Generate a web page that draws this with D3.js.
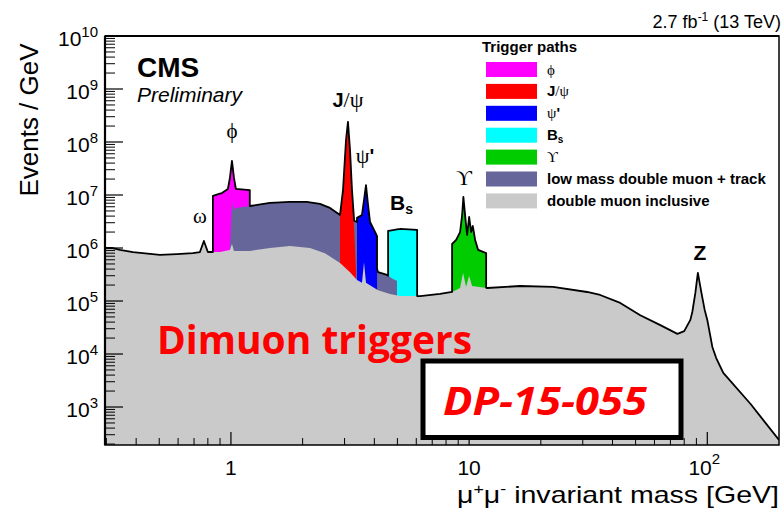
<!DOCTYPE html>
<html>
<head>
<meta charset="utf-8">
<script src="https://cdn.jsdelivr.net/npm/d3@7"></script>
<style>
  body { margin: 0; background: #fff; }
  svg { display: block; font-family: 'Liberation Sans', Arial, sans-serif; }
</style>
</head>
<body>
<div id="chart"></div>
<script>
// each series: [mass in GeV, events / GeV]
const inclusive = [
    [0.296, 1.0e6], [0.319, 1.0e6], [0.342, 9.2e5], [0.388, 8.4e5], [0.503, 7.4e5],
    [0.593, 7.7e5], [0.692, 8.0e5], [0.741, 8.4e5], [0.770, 1.36e6], [0.800, 8.4e5],
    [0.899, 8.4e5], [0.990, 9.2e5], [1.010, 1.19e6], [1.030, 8.8e5], [1.202, 8.8e5],
    [1.459, 1.0e6], [1.770, 1.09e6], [2.148, 1.0e6], [2.48, 8.0e5], [2.871, 5.2e5],
    [3.162, 3.5e5], [3.383, 2.5e5], [3.55, 2.2e5], [3.62, 5.4e5], [3.69, 2.2e5],
    [4.146, 1.6e5], [4.656, 1.36e5], [5.129, 1.24e5], [6.223, 1.24e5], [7.551, 1.36e5],
    [8.484, 1.48e5], [9.163, 1.76e5], [9.43, 3.4e5], [9.71, 1.84e5], [10.0, 3.0e5],
    [10.29, 1.92e5], [11.9, 1.76e5], [16.37, 1.92e5], [22.5, 1.84e5], [31.3, 1.48e5],
    [35.5, 1.30e5], [43.1, 9.2e4], [52.3, 5.4e4], [63.5, 3.5e4], [74.9, 2.4e4],
    [80.0, 2.7e4], [84.9, 4.4e4], [86.5, 6.2e4], [89.1, 1.42e5], [90.5, 2.5e5],
    [91.3, 3.4e5], [92.4, 2.5e5], [94.5, 1.42e5], [97.5, 6.8e4], [100, 4.4e4],
    [105, 1.36e4], [109, 8.4e3], [116.7, 4.4e3], [152, 1.14e3], [200, 238]
];
const lowMassTrack = [
    [0.990, 9.2e5], [1.010, 7.4e6], [1.030, 5.2e6], [1.049, 5.7e6], [1.202, 6.2e6],
    [1.459, 7.1e6], [1.770, 7.4e6], [2.085, 7.4e6], [2.366, 6.8e6], [2.606, 5.7e6],
    [2.871, 4.2e6], [3.10, 3.7e6], [3.383, 3.1e6], [3.69, 1.76e6], [4.03, 5.4e5],
    [4.146, 3.5e5], [4.524, 3.1e5], [4.79, 2.6e5], [4.98, 2.4e5]
];
const phiPath = [
    [0.840, 9.6e6], [0.917, 1.09e7], [0.971, 1.3e7], [0.990, 2.1e7], [1.010, 4.4e7],
    [1.030, 2.1e7], [1.049, 1.3e7], [1.20, 1.24e7]
];
const jpsiPath = [
    [2.871, 4.0e6], [2.955, 1.24e7], [3.042, 1.09e8], [3.10, 2.4e8], [3.162, 7.1e7],
    [3.223, 1.24e7], [3.29, 2.2e6], [3.35, 3.85e5]
];
const psiPrimePath = [
    [3.383, 3.7e6], [3.55, 4.2e6], [3.62, 8.0e6], [3.69, 1.54e7], [3.764, 6.5e6],
    [3.837, 3.1e6], [3.951, 2.4e6], [4.066, 1.84e6], [4.106, 1.68e6]
];
const bsPath = [
    [4.57, 2.1e6], [5.13, 2.3e6], [6.05, 2.2e6]
];
const upsilonPath = [
    [8.484, 1.19e6], [8.82, 1.42e6], [9.163, 2.0e6], [9.35, 4.2e6], [9.46, 9.2e6],
    [9.71, 2.7e6], [9.81, 1.76e6], [10.0, 3.85e6], [10.2, 2.0e6], [10.36, 2.6e6],
    [10.6, 1.42e6], [10.91, 9.2e5], [11.79, 8.0e5]
];

const xTicks = [1, 10, 100];
const yTickExponents = [3, 4, 5, 6, 7, 8, 9, 10];

const colors = {
    phi: '#ff00ff', jpsi: '#ff0000', psip: '#0000ff', bs: '#00ffff',
    ups: '#00cc00', low: '#66669a', incl: '#cacaca'
};

// drawing order: later ones cover earlier ones
const layers = [
    {data: phiPath, color: colors.phi},
    {data: bsPath, color: colors.bs},
    {data: lowMassTrack, color: colors.low},
    {data: jpsiPath, color: colors.jpsi},
    {data: psiPrimePath, color: colors.psip},
    {data: upsilonPath, color: colors.ups},
    {data: inclusive, color: colors.incl}
];

const W = 783, H = 512;
const plot = {left: 105, right: 779, top: 36, bottom: 445};

const x = d3.scaleLog().domain([0.296, 200]).range([plot.left, plot.right]);
const y = d3.scaleLog().domain([192, 1e10]).range([plot.bottom, plot.top]);

const svg = d3.select('#chart').append('svg')
    .attr('width', W)
    .attr('height', H);

svg.append('clipPath').attr('id', 'plotclip')
    .append('rect')
    .attr('x', plot.left).attr('y', plot.top)
    .attr('width', plot.right - plot.left)
    .attr('height', plot.bottom - plot.top);

const g = svg.append('g').attr('clip-path', 'url(#plotclip)');

const area = d3.area()
    .x(d => x(d[0]))
    .y0(plot.bottom)
    .y1(d => y(d[1]));

layers.forEach(l => {
    g.append('path')
        .datum(l.data)
        .attr('fill', l.color)
        .attr('stroke', 'none')
        .attr('d', area);
});

// black outline = upper envelope of all trigger paths
function logAt(s, m) {
    if (m < s[0][0] || m > s[s.length - 1][0]) return null;
    for (let i = 0; i < s.length - 1; i++) {
        const a = s[i], b = s[i + 1];
        if (m >= a[0] && m <= b[0]) {
            const t = (Math.log(m) - Math.log(a[0])) / (Math.log(b[0]) - Math.log(a[0]));
            return Math.log(a[1]) + t * (Math.log(b[1]) - Math.log(a[1]));
        }
    }
    return Math.log(s[s.length - 1][1]);
}

let masses = [];
layers.forEach(l => {
    l.data.forEach(d => masses.push(d[0]));
    masses.push(l.data[0][0] * (1 - 1e-5));
    masses.push(l.data[l.data.length - 1][0] * (1 + 1e-5));
});
masses = Array.from(new Set(masses)).sort((a, b) => a - b)
    .filter(m => m >= inclusive[0][0] && m <= inclusive[inclusive.length - 1][0]);

const envelope = masses.map(m => {
    let best = -Infinity;
    layers.forEach(l => {
        const v = logAt(l.data, m);
        if (v !== null && v > best) best = v;
    });
    return [m, Math.exp(best)];
});

g.append('path')
    .datum(envelope)
    .attr('fill', 'none')
    .attr('stroke', '#000')
    .attr('stroke-width', 1.8)
    .attr('stroke-linejoin', 'round')
    .attr('d', d3.line().x(d => x(d[0])).y(d => y(d[1])));

// axes ticks
const axis = svg.append('g').attr('stroke', '#000');

yTickExponents.forEach(e => {
    axis.append('line')
        .attr('x1', plot.left).attr('x2', plot.left + 18)
        .attr('y1', y(Math.pow(10, e))).attr('y2', y(Math.pow(10, e)))
        .attr('stroke-width', 1.2);
});
for (let e = 2; e < 10; e++) {
    for (let k = 2; k <= 9; k++) {
        const v = k * Math.pow(10, e);
        if (v < y.domain()[0] || v > y.domain()[1]) continue;
        axis.append('line')
            .attr('x1', plot.left).attr('x2', plot.left + 10)
            .attr('y1', y(v)).attr('y2', y(v))
            .attr('stroke-width', 1);
    }
}

xTicks.forEach(t => {
    axis.append('line')
        .attr('x1', x(t)).attr('x2', x(t))
        .attr('y1', plot.bottom).attr('y2', plot.bottom - 13)
        .attr('stroke-width', 1.2);
});
[-1, 0, 1, 2].forEach(e => {
    for (let k = 2; k <= 9; k++) {
        const v = k * Math.pow(10, e);
        if (v <= x.domain()[0] || v >= x.domain()[1]) continue;
        axis.append('line')
            .attr('x1', x(v)).attr('x2', x(v))
            .attr('y1', plot.bottom).attr('y2', plot.bottom - 7)
            .attr('stroke-width', 1);
    }
});

// frame
svg.append('rect')
    .attr('x', plot.left).attr('y', plot.top)
    .attr('width', plot.right - plot.left)
    .attr('height', plot.bottom - plot.top)
    .attr('fill', 'none')
    .attr('stroke', '#000')
    .attr('stroke-width', 1.5);
svg.append('line')
    .attr('x1', plot.left).attr('x2', plot.left)
    .attr('y1', plot.top).attr('y2', plot.bottom)
    .attr('stroke', '#000').attr('stroke-width', 2.2);
svg.append('line')
    .attr('x1', plot.left).attr('x2', plot.right)
    .attr('y1', plot.top).attr('y2', plot.top)
    .attr('stroke', '#000').attr('stroke-width', 2.2);

// y tick labels
yTickExponents.forEach(e => {
    const t = svg.append('text')
        .attr('x', 98)
        .attr('y', y(Math.pow(10, e)) + 10)
        .attr('text-anchor', 'end')
        .attr('fill', '#000');
    t.append('tspan').attr('font-size', 21).text('10');
    t.append('tspan').attr('font-size', 15).attr('dy', -9).text(e);
});

// x tick labels
svg.append('text').attr('x', x(1)).attr('y', 475).attr('text-anchor', 'middle')
    .attr('font-size', 21).text('1');
svg.append('text').attr('x', x(10)).attr('y', 475).attr('text-anchor', 'middle')
    .attr('font-size', 21).text('10');
const t100 = svg.append('text').attr('x', x(100) - 3).attr('y', 475)
    .attr('text-anchor', 'middle');
t100.append('tspan').attr('font-size', 21).text('10');
t100.append('tspan').attr('font-size', 15).attr('dy', -11).text('2');

// axis titles
svg.append('text')
    .attr('transform', 'translate(38,120) rotate(-90)')
    .attr('text-anchor', 'middle')
    .attr('font-size', 26)
    .text('Events / GeV');

const xt = svg.append('text')
    .attr('x', 779).attr('y', 503)
    .attr('text-anchor', 'end')
    .attr('font-size', 24)
    .attr('textLength', 322)
    .attr('lengthAdjust', 'spacingAndGlyphs');
xt.append('tspan').text('μ');
xt.append('tspan').attr('font-size', 15).attr('dy', -9).text('+');
xt.append('tspan').attr('dy', 9).text('μ');
xt.append('tspan').attr('font-size', 15).attr('dy', -9).text('-');
xt.append('tspan').attr('dy', 9).text(' invariant mass [GeV]');

// lumi
const lumi = svg.append('text')
    .attr('x', 781).attr('y', 28)
    .attr('text-anchor', 'end')
    .attr('font-size', 18);
lumi.append('tspan').text('2.7 fb');
lumi.append('tspan').attr('font-size', 12).attr('dy', -7).text('-1');
lumi.append('tspan').attr('dy', 7).text(' (13 TeV)');

svg.append('text').attr('x', 137).attr('y', 77)
    .attr('font-size', 28).attr('font-weight', 'bold').text('CMS');
svg.append('text').attr('x', 137).attr('y', 102)
    .attr('font-size', 21).attr('font-style', 'italic').text('Preliminary');

// peak labels
const serif = "'Liberation Serif', 'DejaVu Serif', serif";
const peakLabels = [
    {x: 200, y: 223, parts: [['ω', serif, 'normal', 21]]},
    {x: 232, y: 138, parts: [['ϕ', serif, 'normal', 21]]},
    {x: 348, y: 107, parts: [['J', null, 'bold', 20], ['/ψ', serif, 'normal', 22]]},
    {x: 365, y: 163, parts: [['ψ', serif, 'normal', 22], ["'", null, 'bold', 20]]},
    {x: 464, y: 185, parts: [['ϒ', serif, 'normal', 22]]},
    {x: 700, y: 260, parts: [['Z', null, 'bold', 21]]}
];
peakLabels.forEach(p => {
    const t = svg.append('text').attr('x', p.x).attr('y', p.y).attr('text-anchor', 'middle');
    p.parts.forEach(([txt, fam, wt, fs]) => {
        const s = t.append('tspan').attr('font-size', fs).attr('font-weight', wt).text(txt);
        if (fam) s.attr('font-family', fam);
    });
});
const bsLabel = svg.append('text').attr('x', 390).attr('y', 210);
bsLabel.append('tspan').attr('font-size', 21).attr('font-weight', 'bold').text('B');
bsLabel.append('tspan').attr('font-size', 14).attr('font-weight', 'bold').attr('dy', 4).text('s');

// legend
const legendItems = [
    {color: colors.phi, parts: [['ϕ', serif, 'normal']]},
    {color: colors.jpsi, parts: [['J', null, 'bold'], ['/ψ', serif, 'normal']]},
    {color: colors.psip, parts: [['ψ', serif, 'normal'], ["'", null, 'bold']]},
    {color: colors.bs, parts: [['B', null, 'bold'], ['s', null, 'bold', 'sub']]},
    {color: colors.ups, parts: [['ϒ', serif, 'normal']]},
    {color: colors.low, parts: [['low mass double muon + track', null, 'bold']]},
    {color: colors.incl, parts: [['double muon inclusive', null, 'bold']]}
];

svg.append('text').attr('x', 482).attr('y', 52)
    .attr('font-size', 15).attr('font-weight', 'bold').text('Trigger paths');

legendItems.forEach((item, i) => {
    const top = 62 + i * 21.9;
    svg.append('rect')
        .attr('x', 486).attr('y', top)
        .attr('width', 51).attr('height', 15)
        .attr('fill', item.color);
    const t = svg.append('text').attr('x', 547).attr('y', top + 12.5).attr('font-size', 15);
    item.parts.forEach(([txt, fam, wt, sub]) => {
        const s = t.append('tspan').attr('font-weight', wt).text(txt);
        if (fam) s.attr('font-family', fam);
        if (sub) s.attr('font-size', 10).attr('dy', 3);
    });
});

// overlay annotations
svg.append('text')
    .attr('x', 157).attr('y', 354)
    .attr('font-family', "'Open Sans', sans-serif")
    .attr('font-weight', 'bold')
    .attr('font-size', 40)
    .attr('fill', '#ff0000')
    .attr('textLength', 315)
    .attr('lengthAdjust', 'spacingAndGlyphs')
    .text('Dimuon triggers');

svg.append('rect')
    .attr('x', 423).attr('y', 361)
    .attr('width', 258).attr('height', 76.5)
    .attr('fill', '#fff')
    .attr('stroke', '#000')
    .attr('stroke-width', 5);

svg.append('text')
    .attr('x', 443).attr('y', 415)
    .attr('font-family', "'Open Sans', sans-serif")
    .attr('font-weight', 'bold')
    .attr('font-style', 'italic')
    .attr('font-size', 40)
    .attr('fill', '#ff0000')
    .attr('textLength', 204)
    .attr('lengthAdjust', 'spacingAndGlyphs')
    .text('DP-15-055');
</script>
</body>
</html>
